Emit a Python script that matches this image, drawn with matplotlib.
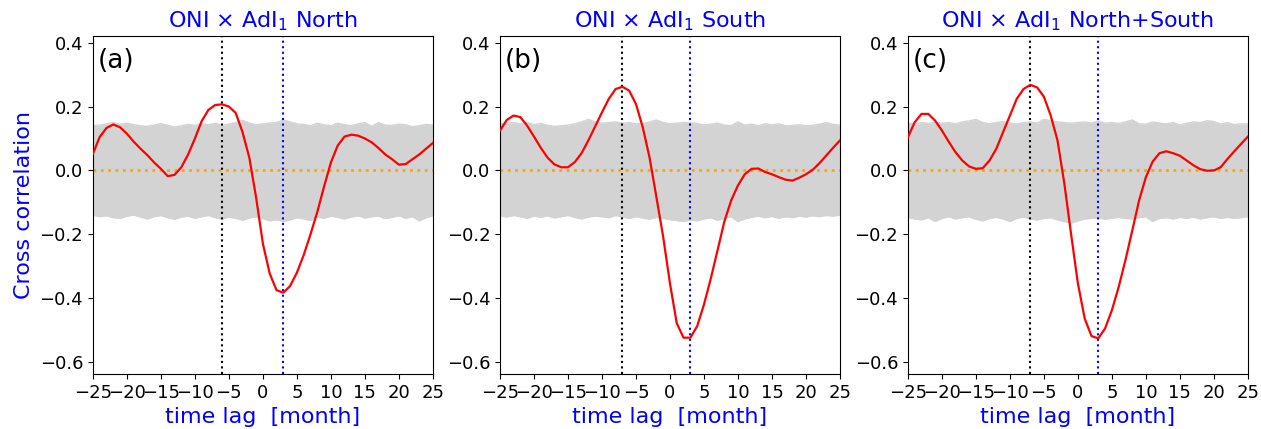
import numpy as np
import matplotlib
matplotlib.use("Agg")
import matplotlib.pyplot as plt

lags = list(range(-25, 26))

corr_north = [0.052, 0.105, 0.133, 0.144, 0.135, 0.115, 0.090, 0.068, 0.048, 0.025,
              0.005, -0.018, -0.014, 0.010, 0.050, 0.100, 0.155, 0.190, 0.205, 0.207,
              0.200, 0.180, 0.120, 0.040, -0.085, -0.230, -0.323, -0.375, -0.383, -0.362,
              -0.320, -0.265, -0.200, -0.130, -0.050, 0.025, 0.078, 0.106, 0.112, 0.109,
              0.100, 0.088, 0.070, 0.050, 0.035, 0.018, 0.020, 0.035, 0.050, 0.068, 0.086]

corr_south = [0.125, 0.158, 0.172, 0.167, 0.140, 0.106, 0.071, 0.040, 0.019, 0.010,
              0.010, 0.026, 0.054, 0.094, 0.138, 0.182, 0.224, 0.255, 0.262, 0.250,
              0.208, 0.135, 0.040, -0.083, -0.208, -0.354, -0.479, -0.524, -0.524, -0.488,
              -0.420, -0.339, -0.250, -0.160, -0.094, -0.047, -0.012, 0.005, 0.006, -0.005,
              -0.012, -0.021, -0.029, -0.032, -0.023, -0.012, 0.002, 0.023, 0.047, 0.071, 0.094]

corr_both = [0.104, 0.151, 0.177, 0.177, 0.156, 0.125, 0.090, 0.057, 0.031, 0.0125,
             0.005, 0.007, 0.031, 0.068, 0.120, 0.172, 0.224, 0.255, 0.268, 0.260,
             0.231, 0.172, 0.094, -0.040, -0.200, -0.354, -0.464, -0.519, -0.526, -0.495,
             -0.438, -0.365, -0.280, -0.188, -0.094, -0.021, 0.028, 0.054, 0.060, 0.054,
             0.046, 0.031, 0.016, 0.004, -0.001, 0.000, 0.010, 0.036, 0.060, 0.083, 0.106]

# envelopes of the surrogate (null) correlations, grey band
upper_north = [0.140, 0.142, 0.146, 0.150, 0.145, 0.148, 0.143, 0.140, 0.138, 0.142,
               0.147, 0.141, 0.136, 0.140, 0.144, 0.141, 0.146, 0.143, 0.148, 0.141,
               0.145, 0.150, 0.157, 0.148, 0.143, 0.146, 0.148, 0.150, 0.158, 0.152,
               0.146, 0.144, 0.140, 0.148, 0.143, 0.140, 0.148, 0.143, 0.140, 0.146,
               0.150, 0.138, 0.150, 0.142, 0.141, 0.145, 0.143, 0.137, 0.140, 0.144, 0.142]
lower_north = [-0.140, -0.145, -0.142, -0.148, -0.150, -0.143, -0.140, -0.146, -0.152, -0.145,
               -0.141, -0.148, -0.153, -0.146, -0.143, -0.150, -0.145, -0.141, -0.148, -0.152,
               -0.146, -0.150, -0.156, -0.149, -0.145, -0.151, -0.158, -0.154, -0.160, -0.155,
               -0.148, -0.152, -0.157, -0.146, -0.150, -0.143, -0.147, -0.152, -0.146, -0.142,
               -0.149, -0.145, -0.143, -0.151, -0.147, -0.142, -0.150, -0.145, -0.158, -0.148, -0.142]

upper_south = [0.145, 0.148, 0.150, 0.146, 0.151, 0.143, 0.147, 0.141, 0.138, 0.140,
               0.142, 0.146, 0.152, 0.160, 0.152, 0.148, 0.150, 0.152, 0.148, 0.150,
               0.146, 0.147, 0.152, 0.158, 0.150, 0.146, 0.148, 0.150, 0.149, 0.147,
               0.142, 0.145, 0.148, 0.142, 0.140, 0.152, 0.142, 0.145, 0.140, 0.146,
               0.143, 0.146, 0.140, 0.141, 0.143, 0.140, 0.141, 0.145, 0.150, 0.144, 0.142]
lower_south = [-0.142, -0.146, -0.141, -0.145, -0.150, -0.143, -0.147, -0.142, -0.149, -0.145,
               -0.141, -0.147, -0.152, -0.146, -0.143, -0.145, -0.148, -0.141, -0.146, -0.150,
               -0.145, -0.149, -0.153, -0.147, -0.150, -0.154, -0.157, -0.160, -0.155, -0.158,
               -0.152, -0.148, -0.156, -0.150, -0.145, -0.160, -0.152, -0.147, -0.143, -0.148,
               -0.144, -0.150, -0.145, -0.148, -0.143, -0.146, -0.142, -0.145, -0.141, -0.143, -0.140]

upper_both = [0.148, 0.145, 0.150, 0.147, 0.151, 0.148, 0.150, 0.146, 0.152, 0.155,
              0.160, 0.150, 0.146, 0.150, 0.153, 0.148, 0.145, 0.150, 0.152, 0.148,
              0.160, 0.156, 0.152, 0.150, 0.148, 0.150, 0.152, 0.148, 0.155, 0.148,
              0.150, 0.147, 0.152, 0.158, 0.146, 0.145, 0.152, 0.148, 0.146, 0.150,
              0.142, 0.148, 0.152, 0.150, 0.156, 0.153, 0.145, 0.150, 0.143, 0.146, 0.145]
lower_both = [-0.148, -0.152, -0.155, -0.148, -0.160, -0.150, -0.145, -0.152, -0.148, -0.145,
              -0.153, -0.158, -0.150, -0.147, -0.152, -0.160, -0.150, -0.146, -0.152, -0.155,
              -0.150, -0.148, -0.155, -0.160, -0.165, -0.158, -0.152, -0.150, -0.148, -0.153,
              -0.150, -0.147, -0.150, -0.152, -0.148, -0.145, -0.160, -0.150, -0.148, -0.152,
              -0.147, -0.150, -0.146, -0.152, -0.148, -0.145, -0.150, -0.147, -0.150, -0.148, -0.145]

titles = [r"ONI × AdI$_1$ North", r"ONI × AdI$_1$ South", r"ONI × AdI$_1$ North+South"]
panel_labels = ["(a)", "(b)", "(c)"]
lead_lags = [-6, -7, -7]
max_lags = [3, 3, 3]
xticks = [-25, -20, -15, -10, -5, 0, 5, 10, 15, 20, 25]
yticks = [-0.6, -0.4, -0.2, 0.0, 0.2, 0.4]

series = [corr_north, corr_south, corr_both]
uppers = [upper_north, upper_south, upper_both]
lowers = [lower_north, lower_south, lower_both]

fig = plt.figure(figsize=(12.61, 4.29), dpi=100)
lefts = [0.0737, 0.3965, 0.7200]
width = 0.2696
bottom = 0.128
height = 0.788

for i in range(3):
    ax = fig.add_axes([lefts[i], bottom, width, height])
    ax.fill_between(lags, lowers[i], uppers[i], color="lightgrey", lw=0, zorder=1)
    ax.plot(lags, uppers[i], color="lightgrey", lw=1, zorder=1)
    ax.plot(lags, lowers[i], color="lightgrey", lw=1, zorder=1)
    ax.axhline(0, color="orange", ls=":", lw=2, zorder=2)
    ax.axvline(lead_lags[i], color="black", ls=":", lw=1.5, zorder=2)
    ax.axvline(max_lags[i], color="blue", ls=":", lw=1.5, zorder=2)
    ax.plot(lags, series[i], color="red", lw=1.6, zorder=3)
    ax.set_xlim(-25, 25)
    ax.set_ylim(-0.638, 0.421)
    ax.set_xticks(xticks)
    ax.set_yticks(yticks)
    ax.tick_params(labelsize=13)
    ax.set_title(titles[i], color="blue", fontsize=16)
    ax.set_xlabel("time lag  [month]", color="blue", fontsize=16)
    ax.text(0.015, 0.965, panel_labels[i], transform=ax.transAxes, fontsize=19,
            va="top", ha="left")
    if i == 0:
        ax.set_ylabel("Cross correlation", color="blue", fontsize=16)

fig.savefig("out.png", dpi=100)
